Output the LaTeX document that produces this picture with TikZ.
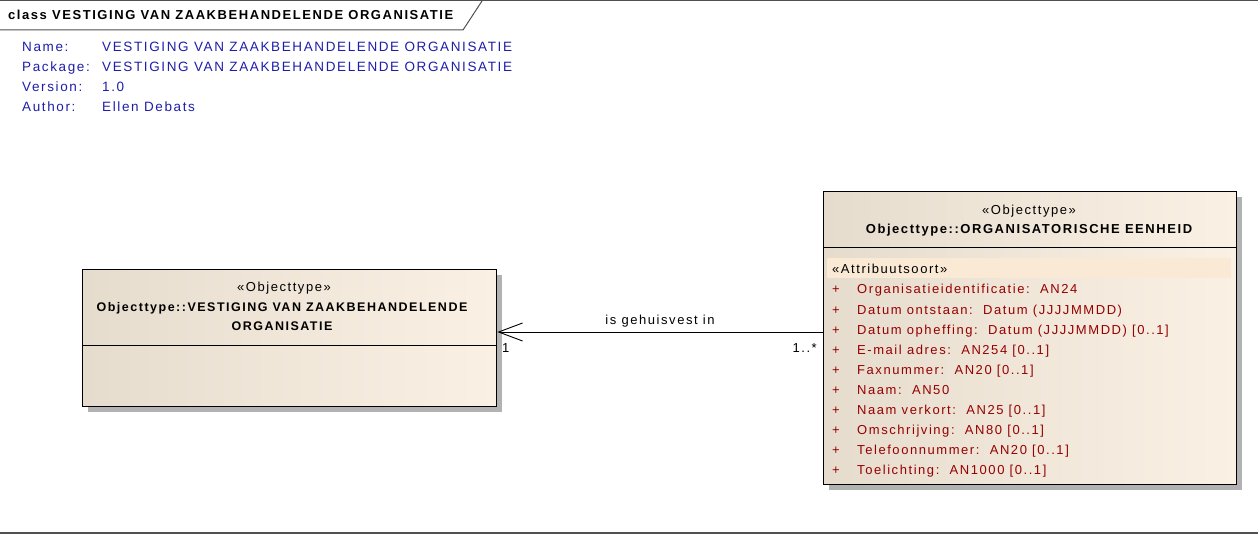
\documentclass[tikz,border=0pt]{standalone}
\usepackage{fontspec}
\setmainfont{Liberation Sans}[LetterSpace=12]
\usetikzlibrary{arrows.meta,shadows}

\definecolor{metablue}{RGB}{30,30,170}
\definecolor{attrred}{RGB}{150,0,0}
\definecolor{boxleft}{RGB}{230,220,206}
\definecolor{boxright}{RGB}{250,241,228}
\definecolor{stereobar}{RGB}{250,233,212}
\definecolor{framegray}{RGB}{80,80,80}

\tikzset{
  classbox/.style={draw=black, line width=1.3pt, left color=boxleft, right color=boxright,
    anchor=north west, inner sep=0pt,
    drop shadow={shadow xshift=5pt, shadow yshift=-5pt, fill=black!30, opacity=1}},
  txt/.style={inner sep=0pt, font=\fontsize{13}{15}\selectfont},
  bold/.style={txt, font=\fontsize{13}{15}\selectfont\bfseries},
  meta/.style={txt, font=\fontsize{13.5}{15}\selectfont, text=metablue, anchor=base west},
  attr/.style={txt, text=attrred, anchor=base west},
}

\begin{document}
\begin{tikzpicture}[x=1pt,y=-1pt]
\useasboundingbox (0,0) rectangle (1258,534);

% frame and title tab
\draw[framegray, line width=1pt] (0,1) -- (1258,1);
\draw[framegray, line width=1.2pt] (0,533) -- (1258,533);
\draw[framegray, line width=1pt] (0,30) -- (463,30) -- (482,1);
\node[bold, anchor=base west] (title) at (8,20) {class VESTIGING VAN ZAAKBEHANDELENDE ORGANISATIE};

% diagram properties
\node[meta] (namekey) at (22,52) {Name:};
\node[meta] (pkgkey) at (22,72) {Package:};
\node[meta] (verkey) at (22,92) {Version:};
\node[meta] (authkey) at (22,112) {Author:};
\node[meta] (nameval) at (102,52) {VESTIGING VAN ZAAKBEHANDELENDE ORGANISATIE};
\node[meta] (pkgval) at (102,72) {VESTIGING VAN ZAAKBEHANDELENDE ORGANISATIE};
\node[meta] (verval) at (102,92) {1.0};
\node[meta] (authval) at (102,112) {Ellen Debats};

% class VESTIGING
\node[classbox, minimum width=414pt, minimum height=137pt] (vestiging) at (82,269) {};
\draw[line width=1pt] ([yshift=-77pt]vestiging.north west) -- ([yshift=-77pt]vestiging.north east);
\node[txt, anchor=base] (vstereo) at (284,292) {«Objecttype»};
\node[bold, font=\fontsize{12.5}{15}\selectfont\bfseries, anchor=base] (vname1) at (282,312) {Objecttype::VESTIGING VAN ZAAKBEHANDELENDE};
\node[bold, font=\fontsize{12.5}{15}\selectfont\bfseries, anchor=base] (vname2) at (282,331) {ORGANISATIE};

% class ORGANISATORISCHE EENHEID
\node[classbox, minimum width=413pt, minimum height=293pt] (eenheid) at (823,191) {};
\draw[line width=1pt] ([yshift=-57pt]eenheid.north west) -- ([yshift=-57pt]eenheid.north east);
\node[txt, anchor=base] (estereo) at (1029,215) {«Objecttype»};
\node[bold, anchor=base] (ename) at (1029,234) {Objecttype::ORGANISATORISCHE EENHEID};
\fill[stereobar] (827,258) rectangle (1231,278);
\node[txt, anchor=base west] (attrstereo) at (832,274) {«Attribuutsoort»};
\foreach \attrtext [count=\i from 0] in {%
    Organisatieidentificatie:~~AN24,
    Datum ontstaan:~~Datum (JJJJMMDD),
    Datum opheffing:~~Datum (JJJJMMDD) [0..1],
    E-mail adres:~~AN254 [0..1],
    Faxnummer:~~AN20 [0..1],
    Naam:~~AN50,
    Naam verkort:~~AN25 [0..1],
    Omschrijving:~~AN80 [0..1],
    Telefoonnummer:~~AN20 [0..1],
    Toelichting:~~AN1000 [0..1]} {
  \node[attr] (plus\i) at (832,294+20.1*\i) {+};
  \node[attr] (attr\i) at (857,294+20.1*\i) {\attrtext};
}

% association
\coordinate (assocend) at (823,332);
\draw[line width=0.9pt, -{Straight Barb[length=24pt,width=18pt,line width=0.9pt]}]
  (assocend) -- (assocend -| vestiging.east);
\node[txt, anchor=base] (assoclabel) at (660,325) {is gehuisvest in};
\node[txt, anchor=base west] (multleft) at (502,353) {1};
\node[txt, anchor=base east] (multright) at (817,353) {1..*};
\end{tikzpicture}
\end{document}
